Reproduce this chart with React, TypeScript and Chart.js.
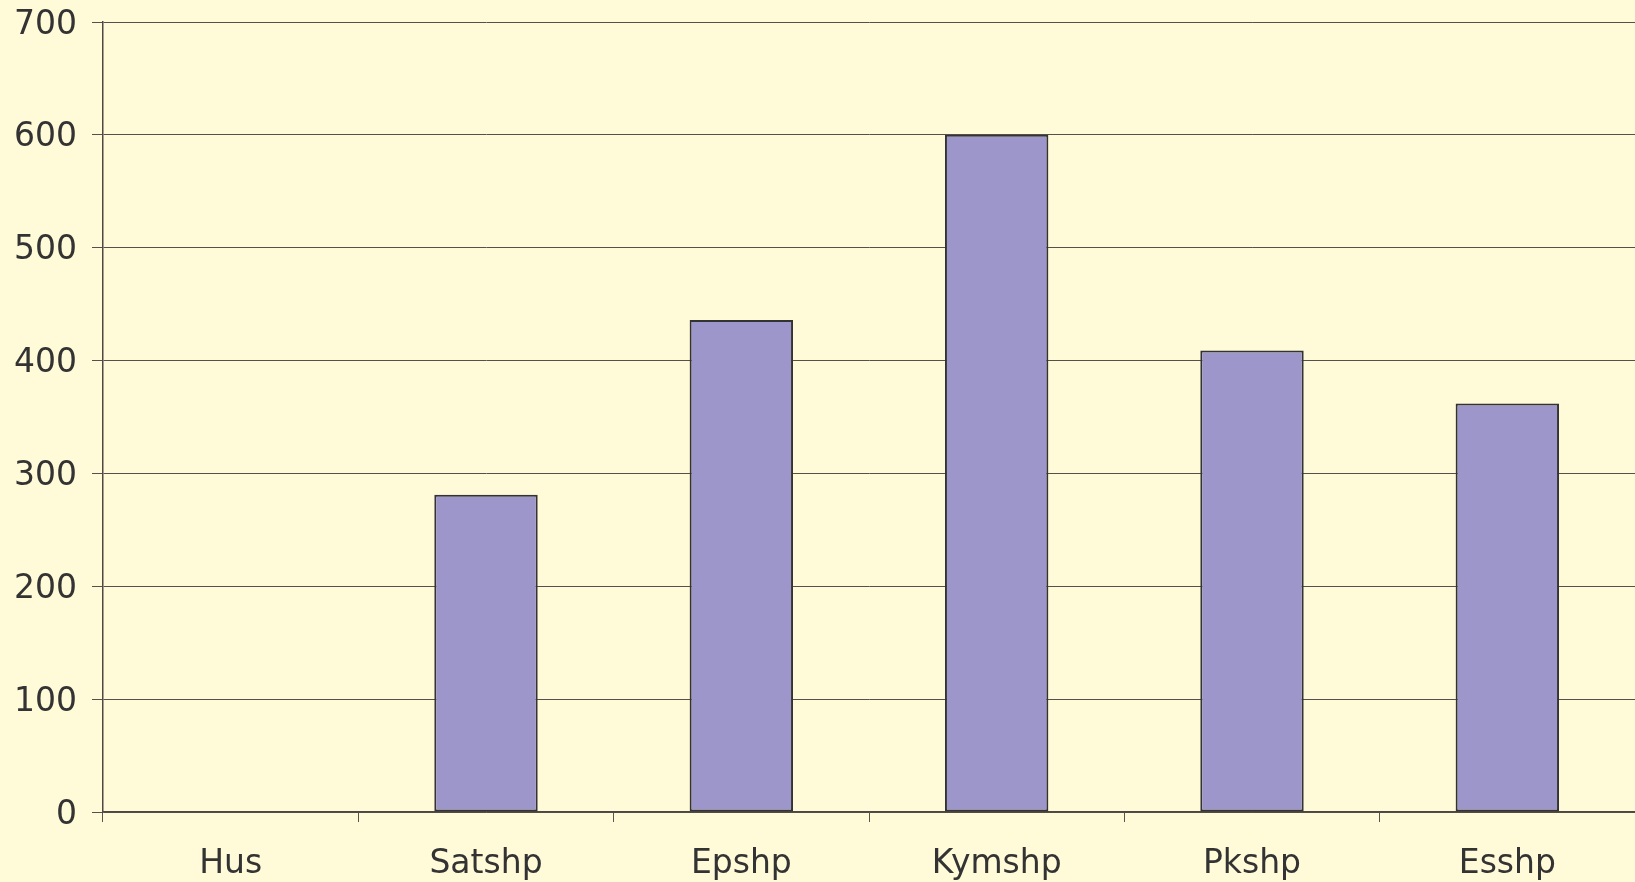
import React, { useEffect, useRef } from "react";
import { Chart, registerables } from "chart.js";

Chart.register(...registerables);

const categories = ["Hus", "Satshp", "Epshp", "Kymshp", "Pkshp", "Esshp"];
const values: (number | null)[] = [null, 281, 436, 600, 409, 362];
const yMin = 0;
const yMax = 700;
const yStep = 100;

export default function App() {
  const ref = useRef<HTMLCanvasElement | null>(null);

  useEffect(() => {
    document.body.style.margin = "0";
    const ctx = ref.current;
    if (!ctx) return;
    const family = "'DejaVu Sans', Verdana, sans-serif";
    const chart = new Chart(ctx, {
      type: "bar",
      data: {
        labels: categories,
        datasets: [
          {
            data: values,
            backgroundColor: "#9c96ca",
            borderColor: "#333333",
            borderWidth: 2,
            borderSkipped: false,
            barPercentage: 0.405,
            categoryPercentage: 1,
          },
        ],
      },
      options: {
        animation: false,
        responsive: false,
        maintainAspectRatio: false,
        layout: { padding: { top: 22, right: 0, left: 0, bottom: 0 } },
        plugins: { legend: { display: false }, tooltip: { enabled: false } },
        scales: {
          x: {
            offset: true,
            grid: {
              offset: true,
              drawOnChartArea: false,
              drawTicks: true,
              tickLength: 10,
              color: "#5a5450",
            },
            border: { display: true, color: "#4e4844", width: 1.5 },
            ticks: { font: { family, size: 33 }, color: "#333333", padding: 23, maxRotation: 0 },
            afterFit: (s: any) => {
              s.height = 70;
            },
          },
          y: {
            min: yMin,
            max: yMax,
            grid: {
              color: "#56504b",
              lineWidth: 1,
              tickLength: 11,
            },
            border: { display: true, color: "#4e4844", width: 1.5 },
            ticks: {
              stepSize: yStep,
              font: { family, size: 33, lineHeight: 0.1 },
              color: "#333333",
              padding: 15,
              labelOffset: 3,
            },
            afterFit: (s: any) => {
              s.width = 103;
            },
          },
        },
      },
    });
    return () => chart.destroy();
  }, []);

  return (
    <div
      style={{
        position: "fixed",
        left: 0,
        top: 0,
        width: 1635,
        height: 882,
        background: "#fffad8",
      }}
    >
      <canvas ref={ref} width={1635} height={882} style={{ width: 1635, height: 882, display: "block" }} />
    </div>
  );
}
